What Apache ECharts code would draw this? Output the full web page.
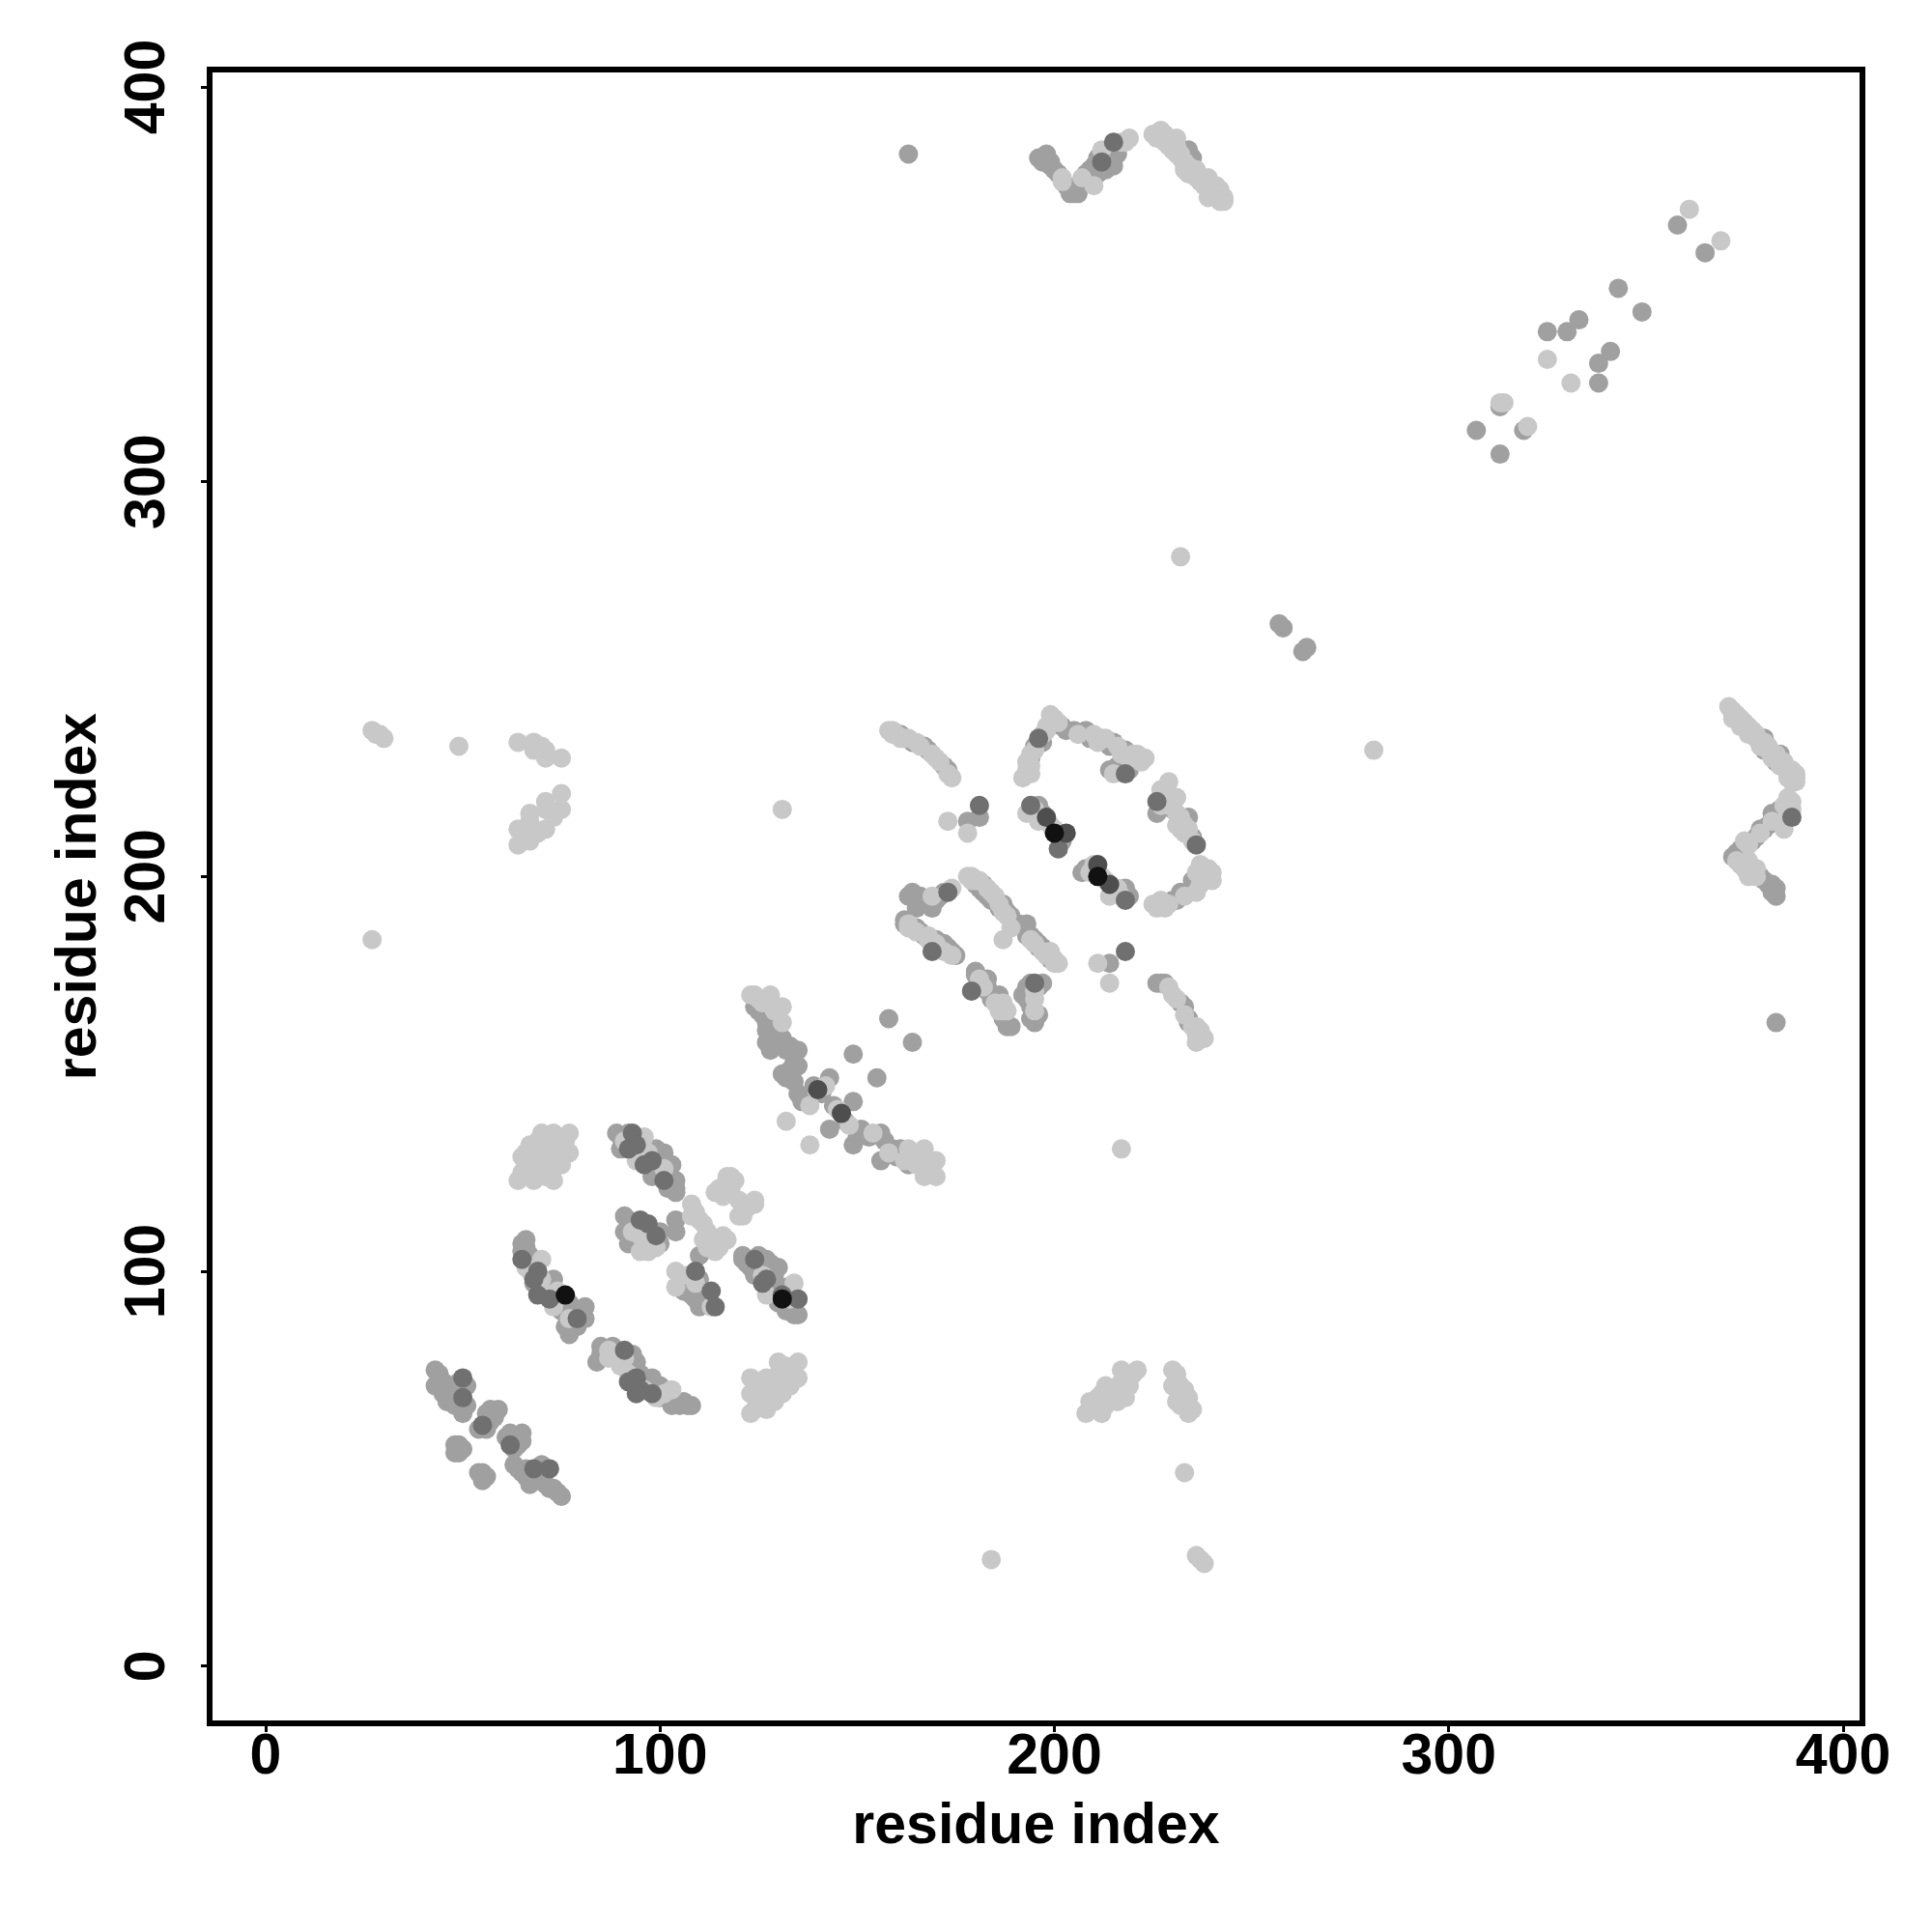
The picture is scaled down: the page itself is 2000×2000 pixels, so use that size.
<!DOCTYPE html>
<html>
<head>
<meta charset="utf-8">
<script src="https://cdn.jsdelivr.net/npm/echarts@6/dist/echarts.min.js"></script>
<style>html,body{margin:0;padding:0;background:#fff}#c{width:2000px;height:2000px}</style>
</head>
<body>
<div id="c"></div>
<script>
// Axis tick labels
const xTicks = [0, 100, 200, 300, 400];
const yTicks = [0, 100, 200, 300, 400];
const xTitle = "residue index";
const yTitle = "residue index";

// Contact points grouped by grey shade: [residue i, residue j]
const midPts = [
  [358,365],[365,358],[343,349],[349,343],[333,341],[330,338],[325,338],[341,333],[338,330],[338,325],[313,319],[307,313],[319,313],[313,307],
  [163,383],[258,263],[257,264],[264,258],[263,257],[383,163],[158,164],[164,158],[149,155],[155,149],
  [226,173],[228,173],[233,167],[234,163],[227,173],[232,168],[234,164],
  [196,382],[198,383],[200,379],[199,380],[205,373],[204,374],[208,378],[207,376],[215,380],[216,383],[213,379],[234,384],[235,382],[230,385],
  [197,381],[199,381],[201,378],[203,375],[204,373],[206,373],[206,375],[209,379],[210,380],[211,382],[213,383],[214,384],[216,385],[209,376],[211,378],
  [203,237],[195,233],[197,234],[208,237],[215,234],[214,227],[218,232],[226,216],[234,215],[230,219],[235,199],[232,196],[230,194],[207,201],[218,197],[196,218],[214,178],
  [194,230],[196,234],[202,238],[205,237],[209,235],[214,233],[216,228],[217,227],[219,227],[228,220],[230,217],[233,214],[235,210],[234,196],[231,194],[236,197],[208,202],[215,197],[219,195],[197,216],[202,209],
  [167,233],[173,227],[161,236],[178,214],[181,215],[164,234],[168,232],[172,228],
  [181,197],[183,195],[187,193],[185,194],[180,198],[182,196],[184,194],[186,192],[188,191],[189,190],[182,198],
  [163,195],[170,194],[167,193],[165,195],[164,196],[166,195],[168,194],[171,195],[172,196],[165,192],[169,192],
  [162,189],[165,187],[170,184],[172,183],[174,181],[166,186],[162,188],[164,187],[167,185],[169,183],[171,182],[173,182],[175,180],
  [192,187],[194,185],[197,182],[193,186],[196,183],[191,188],[193,185],[195,184],[196,182],[198,181],[199,179],[193,188],
  [180,176],[181,173],[184,170],[183,172],[188,162],[185,169],[180,175],[182,173],[183,171],[184,169],[186,167],[187,164],[189,162],[186,170],[183,174],
  [197,173],[194,173],[192,170],[194,167],[195,163],[193,172],[193,169],[194,168],[196,165],[194,164],[196,172],
  [124,167],[127,163],[128,160],[131,159],[128,156],[132,156],[135,156],[135,152],[132,149],[143,149],[136,143],[149,143],[143,136],[149,132],[152,135],[156,135],[156,128],[159,131],[163,127],
  [125,166],[126,165],[128,165],[129,164],[127,161],[129,162],[130,158],[127,158],[129,157],[133,157],[134,155],[134,153],[133,151],[131,150],[134,148],
  [135,145],[139,147],[141,145],[144,142],[147,138],[150,134],[151,136],[153,134],[157,133],[160,129],[161,131],[164,128],
  [89,135],[90,131],[101,130],[103,127],[98,124],[104,123],[104,120],[104,113],[104,110],[91,114],[91,110],[110,104],[121,104],[127,103],[130,101],[124,99],[110,91],[132,90],[135,89],
  [90,134],[92,132],[95,131],[96,129],[99,127],[100,125],[102,124],[103,122],[102,121],[104,121],[92,135],[99,131],[100,128],
  [92,113],[93,112],[92,111],[94,109],[96,111],[97,107],[98,108],[92,107],[100,107],[100,110],
  [105,99],[106,98],[108,97],[110,98],[110,96],[111,95],[112,94],[111,93],[112,92],[106,95],[108,94],[109,93],
  [121,103],[122,102],[123,101],[125,100],[126,101],[128,98],[129,97],[129,95],[130,96],[132,96],[133,95],[132,92],[134,91],[134,89],[128,102],[125,104],[129,99],[130,92],
  [66,108],[65,105],[73,98],[77,92],[81,91],[81,88],[77,84],[85,81],[88,81],[84,77],[94,77],[98,73],[105,66],[108,66],[103,66],
  [65,107],[66,106],[67,104],[66,102],[68,99],[68,97],[70,96],[71,95],[72,96],[74,93],[75,92],[75,90],[78,90],[79,89],[78,87],[79,86],[80,89],[76,86],
  [85,79],[86,80],[88,79],[89,78],[90,79],[92,76],[93,75],[95,74],[96,72],[97,71],[99,70],[100,68],[102,68],[104,67],[106,67],[107,66],[100,71],[93,79],
  [43,75],[43,71],[46,70],[46,67],[50,64],[59,65],[56,64],[49,56],[48,54],[65,59],[64,56],[55,49],[55,48],[64,50],[67,46],[72,45],[75,43],[44,73],[47,68],[61,58],
  [44,74],[45,72],[45,69],[47,71],[48,69],[49,72],[51,71],[48,66],[51,66],[57,65],[58,63],[57,62],[54,60],[56,60],[50,55],[48,56],[49,54],[62,59],[63,57],[65,57],[63,55],
  [54,49],[56,48],[55,47],[63,51],[65,49],[66,48],[68,47],[70,48],[71,46],[73,45],[74,44],[66,50],[70,51],
  [382,216],[379,212],[373,205],[379,200],[382,198],[382,196],[380,235],[384,231],[380,232],[383,229],[386,227],
  [384,217],[383,216],[381,213],[380,212],[378,210],[377,209],[374,207],[373,206],[372,205],[380,199],[381,198],[383,197],[383,195]
];
const lightPts = [
  [361,369],[369,361],[314,320],[320,314],[325,331],[331,325],[313,320],
  [232,281],[281,232],[27,184],[49,233],[131,217],[217,131],[184,27],[233,49],[236,28],[237,27],[238,26],
  [27,237],[28,236],[29,236],[30,235],
  [64,234],[68,234],[68,232],[71,232],[71,230],[75,230],[70,233],
  [75,221],[75,217],[71,219],[71,217],[71,212],[67,216],[67,214],[64,212],[64,208],[67,209],[69,211],[73,215],[66,210],
  [217,75],[221,75],[213,71],[219,71],[216,67],[209,67],[208,64],[212,64],[215,69],[211,68],[230,75],[230,71],[232,71],[234,68],[234,64],[232,69],
  [210,66],[211,65],[213,66],[214,69],[216,70],[217,72],[219,73],[220,74],[218,68],[212,69],[231,73],[231,74],[233,70],[233,66],[234,66],[235,65],[231,67],[232,66],
  [70,135],[73,135],[77,135],[66,130],[70,130],[73,130],[77,130],[66,127],[73,127],[64,123],[68,123],[73,123],[71,128],[68,126],[75,132],[67,132],
  [65,125],[67,124],[69,124],[71,124],[72,125],[75,129],[74,131],[76,133],[69,133],[72,133],[65,129],[69,129],[75,127],[71,126],[67,129],
  [130,77],[135,77],[123,73],[127,73],[131,73],[135,73],[123,69],[131,69],[123,64],[127,65],[129,71],[133,75],[125,67],[129,67],
  [124,72],[125,70],[126,71],[128,72],[130,74],[132,76],[134,76],[133,71],[128,68],[124,65],[126,67],[132,73],[134,74],[130,72],
  [117,124],[114,120],[124,117],[121,114],[108,117],[108,114],[113,107],[117,108],[114,105],[96,134],[94,128],[99,106],[95,105],[95,109],[104,100],[109,97],[104,96],[127,94],[134,97],[118,124],[120,114],
  [115,121],[116,119],[118,121],[119,123],[120,118],[122,116],[123,117],[109,115],[110,113],[111,112],[112,110],[111,108],[112,106],[115,106],[116,109],
  [93,110],[97,110],[96,106],[97,105],[107,99],[113,91],[126,99],[133,93],[91,133],[97,130],[101,126],
  [70,103],[66,101],[73,91],[77,88],[87,78],[90,76],[101,69],[103,70],[124,118],[67,100],[70,98],[72,94],[74,95],[87,80],[91,78],[92,74],[96,70],[99,68],
  [124,170],[128,170],[131,167],[131,163],[132,138],[138,132],[163,131],[167,131],[170,128],[167,124],[170,124],[123,170],[125,169],[126,168],[129,166],
  [138,142],[142,147],[145,141],[148,137],[154,135],[158,130],[162,128],[165,127],[166,129],[168,126],[169,125],
  [159,237],[160,236],[163,235],[170,230],[158,237],[159,236],[161,235],[162,235],[165,234],[166,233],[169,231],[171,229],[173,226],[174,225],
  [199,241],[200,240],[198,238],[193,226],[194,228],[212,235],[211,234],[223,230],[220,231],[229,224],[228,222],[231,220],[232,212],[233,211],[240,199],[238,201],[239,202],[225,193],[227,194],[193,216],[214,195],[216,197],[211,178],[214,173],[230,170],[237,161],[237,159],[236,160],
  [193,227],[193,229],[194,231],[195,232],[197,236],[198,237],[199,239],[201,239],[192,225],[194,226],[206,236],[210,236],[213,235],[216,233],[217,231],[219,230],[221,231],[222,229],[215,226],
  [227,222],[229,218],[231,216],[232,215],[233,213],[234,212],[235,209],[227,218],[229,221],[231,213],
  [239,200],[238,199],[237,198],[236,196],[233,195],[229,193],[228,192],[226,192],[240,201],[237,203],[236,201],
  [195,217],[199,213],[200,212],[196,214],[209,201],[212,200],[213,199],[216,196],[217,195],[210,203],
  [229,172],[231,169],[233,165],[235,162],[236,162],[238,159],[236,158],
  [202,376],[210,375],[212,384],[219,387],[218,386],[225,388],[228,388],[231,387],[229,386],[232,383],[236,379],[239,377],[241,375],[243,372],[239,372],[240,373],[242,374],[237,376],[234,378],[226,387],[233,381],
  [202,377],[207,377],[217,386],[227,387],[228,386],[229,385],[230,384],[231,383],[232,382],[233,380],[234,380],[235,379],[236,378],[237,377],[238,376],[238,375],[239,374],[240,374],[241,373],[242,373],[241,372],[242,371],[243,371],[236,377],[233,379],[231,385],[227,389],
  [371,243],[372,242],[373,241],[374,240],[375,239],[376,238],[377,237],[378,236],[380,234],[381,233],[383,231],[385,229],[387,227],[388,226],
  [372,240],[374,238],[376,236],[379,233],[382,230],[384,228],[386,226],[388,224],
  [372,241],[373,240],[375,238],[377,236],[378,235],[379,234],[381,232],[382,231],[384,229],[385,228],[386,225],[387,225],[388,225],[387,224],
  [387,219],[386,220],[385,212],[375,209],[376,204],[376,200],[378,202],
  [385,218],[387,217],[382,214],[379,211],[376,208],[373,204],[374,203],[375,202],[377,201],[378,200],[386,216],
  [178,200],[179,199],[173,214],[178,211],[199,181],[200,178],[195,169],[187,184],[189,187],[163,188],[168,185],[187,168],[188,166],[186,166],
  [179,200],[180,199],[181,199],[183,197],[184,196],[185,195],[186,193],[187,191],[188,190],[169,195],[174,197],[163,187],[165,186],[168,184],[170,183],[172,181],[174,180],
  [194,184],[195,183],[197,181],[198,180],[200,179],[201,178],[181,174],[182,172],[185,168],[187,166],[195,171],[195,166]
];
const darkPts = [
  [93,135],[94,132],[98,128],[101,123],[95,113],[99,109],[124,103],[127,98],[135,93],[109,100],[113,95],[114,91],
  [65,103],[69,100],[69,94],[91,80],[94,73],[94,69],[98,69],[50,73],[50,68],[62,56],[68,50],[72,50],[55,61],
  [68,98],[72,93],[79,88],[92,72],[95,70],
  [196,235],[218,226],[226,219],[236,208],[212,381],[181,218],[173,196],[169,181],[179,171],[194,218],[201,207],[218,194],[218,181],[195,173],
  [387,215],[215,386],[126,97],[131,94],[97,112],[96,127],[92,131]
];
const darkerPts = [
  [203,211],[198,215],[211,203],[214,198],[140,146],[146,140]
];
const blackPts = [
  [200,211],[211,200],[76,94],[131,93]
];

const shades = [
  {name: 'mid', data: midPts, color: '#a0a0a0'},
  {name: 'light', data: lightPts, color: '#c8c8c8'},
  {name: 'dark', data: darkPts, color: '#707070'},
  {name: 'darker', data: darkerPts, color: '#4e4e4e'},
  {name: 'black', data: blackPts, color: '#111111'}
];

const chart = echarts.init(document.getElementById('c'), null, {renderer: 'canvas'});
const font = '"Liberation Sans", Arial, Helvetica, sans-serif';
chart.setOption({
  animation: false,
  backgroundColor: '#ffffff',
  grid: {left: 217, right: 72, top: 72, bottom: 216, show: true, borderColor: '#000', borderWidth: 6, backgroundColor: 'transparent'},
  xAxis: {
    type: 'value', min: -14.2, max: 404.9,
    name: xTitle, nameLocation: 'middle', nameGap: 78,
    nameTextStyle: {fontFamily: font, fontWeight: 'bold', fontSize: 59, color: '#000'},
    axisLine: {show: false, onZero: false},
    splitLine: {show: false},
    axisTick: {show: true, inside: false, length: 9, lineStyle: {color: '#000', width: 3}, customValues: xTicks},
    axisLabel: {show: true, margin: 6, fontFamily: font, fontWeight: 'bold', fontSize: 59, color: '#000', customValues: xTicks}
  },
  yAxis: {
    type: 'value', min: -14.5, max: 404.4,
    name: yTitle, nameLocation: 'middle', nameGap: 105, nameRotate: 90,
    nameTextStyle: {fontFamily: font, fontWeight: 'bold', fontSize: 59, color: '#000'},
    axisLine: {show: false, onZero: false},
    splitLine: {show: false},
    axisTick: {show: true, inside: false, length: 9, lineStyle: {color: '#000', width: 3}, customValues: yTicks},
    axisLabel: {show: true, rotate: 90, margin: 34, fontFamily: font, fontWeight: 'bold', fontSize: 59, color: '#000', customValues: yTicks}
  },
  series: shades.map(s => ({
    type: 'scatter', name: s.name, data: s.data, symbol: 'circle', symbolSize: 20,
    itemStyle: {color: s.color, opacity: 1}, silent: true
  }))
});
</script>
</body>
</html>
